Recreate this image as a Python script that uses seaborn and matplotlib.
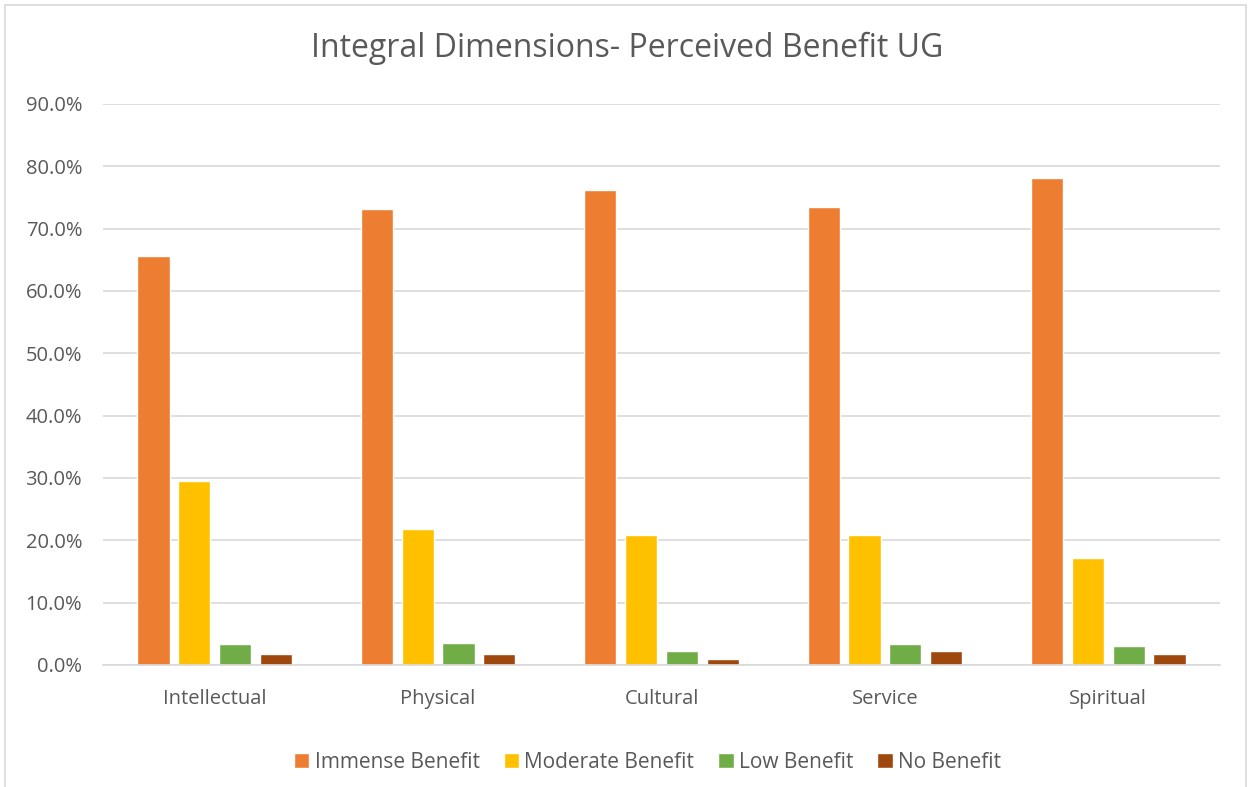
import matplotlib.pyplot as plt
import seaborn as sns
import pandas as pd
from matplotlib.patches import Rectangle
from matplotlib.ticker import PercentFormatter

sns.set_style("white")
plt.rcParams['font.family'] = ['Open Sans', 'DejaVu Sans']

# Data (fractions)
dimensions = ["Intellectual", "Physical", "Cultural", "Service", "Spiritual"]
levels = ["Immense Benefit", "Moderate Benefit", "Low Benefit", "No Benefit"]
immense = [0.656, 0.731, 0.762, 0.735, 0.782]
moderate = [0.295, 0.218, 0.208, 0.209, 0.171]
low = [0.033, 0.035, 0.022, 0.033, 0.030]
none_ = [0.017, 0.017, 0.009, 0.023, 0.018]
colors = ["#ED7D31", "#FFC000", "#70AD47", "#9E480E"]

rows = []
for level, vals in zip(levels, [immense, moderate, low, none_]):
    for dim, v in zip(dimensions, vals):
        rows.append({"Dimension": dim, "Level": level, "Value": v})
df = pd.DataFrame(rows)

text_color = "#595959"
grid_color = "#D9D9D9"

fig = plt.figure(figsize=(12.5, 7.87), dpi=100)
ax = fig.add_axes([103 / 1250, 1 - 665 / 787, 1117 / 1250, 561 / 787])

sns.barplot(data=df, x="Dimension", y="Value", hue="Level", palette=colors,
            width=0.73, gap=0.21, ax=ax, errorbar=None, saturation=1)

ax.set_ylim(0, 0.9)
ax.set_yticks([i / 10 for i in range(10)])
ax.yaxis.set_major_formatter(PercentFormatter(1.0, decimals=1))
ax.grid(axis="y", color=grid_color, linewidth=1.2)
ax.set_axisbelow(True)
for s in ["top", "right", "left"]:
    ax.spines[s].set_visible(False)
ax.spines["bottom"].set_color(grid_color)
ax.spines["bottom"].set_linewidth(1.2)
ax.tick_params(axis="both", length=0, labelsize=14.5, colors=text_color)
ax.tick_params(axis="y", pad=15)
ax.tick_params(axis="x", pad=17)
ax.set_xlabel("")
ax.set_ylabel("")

ax.legend_.remove()
handles, labels = ax.get_legend_handles_labels()
fig.legend(handles, labels, loc="center", bbox_to_anchor=(0.518, 1 - 762 / 787),
           ncol=4, frameon=False, fontsize=15, handlelength=0.75, handleheight=0.75,
           handletextpad=0.25, columnspacing=1.15, labelcolor=text_color)

fig.text(0.502, 1 - 48 / 787, "Integral Dimensions- Perceived Benefit UG",
         ha="center", va="center", fontsize=23, color=text_color)

fig.patches.append(Rectangle((4.5 / 1250, -0.01), 1241 / 1250, 1 - 5 / 787 + 0.01,
                             transform=fig.transFigure, fill=False,
                             edgecolor=grid_color, linewidth=1.2))

fig.savefig("out.png", dpi=100, facecolor="white")
